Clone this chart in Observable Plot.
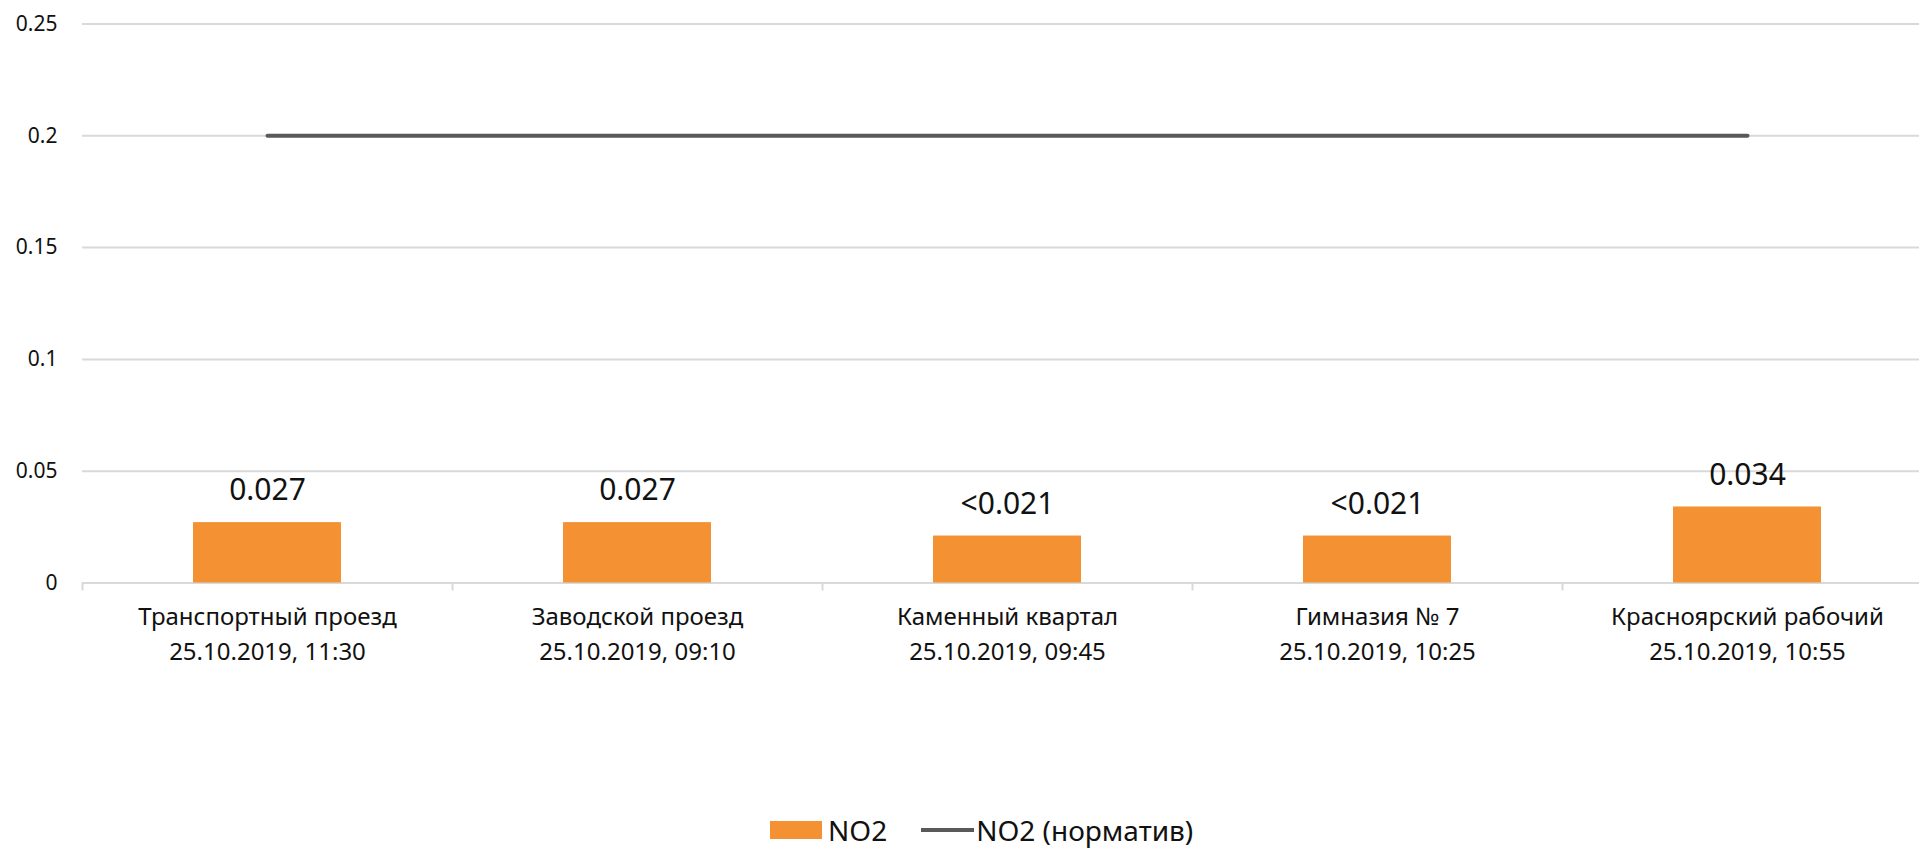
<!DOCTYPE html>
<html>
<head>
<meta charset="utf-8">
<script src="https://cdn.jsdelivr.net/npm/d3@7"></script>
<script src="https://cdn.jsdelivr.net/npm/@observablehq/plot@0.6"></script>
<style>
  html, body { margin: 0; padding: 0; background: #fff; }
  body { width: 1919px; height: 848px; position: relative; overflow: hidden; font-family: "Noto Sans", sans-serif; }
  #chart svg { display: block; overflow: hidden; }
  #legend { position: absolute; left: 770px; top: 814px; height: 32px; line-height: 32px; display: flex; align-items: center; font-size: 28px; color: #111; }
  .sw-bar { width: 52px; height: 18px; background: #f39133; margin-right: 6px; }
  .sw-line { width: 53px; height: 4px; background: #595959; margin-left: 34px; margin-right: 2px; }
</style>
</head>
<body>
<div id="chart"></div>
<div id="legend">
  <div class="sw-bar"></div><span>NO2</span>
  <div class="sw-line"></div><span>NO2 (норматив)</span>
</div>
<script>
const categories = [
  "Транспортный проезд\n25.10.2019, 11:30",
  "Заводской проезд\n25.10.2019, 09:10",
  "Каменный квартал\n25.10.2019, 09:45",
  "Гимназия № 7\n25.10.2019, 10:25",
  "Красноярский рабочий\n25.10.2019, 10:55"
];
const no2Values = [0.027, 0.027, 0.021, 0.021, 0.034];
const no2Labels = ["0.027", "0.027", "<0.021", "<0.021", "0.034"];
const normValues = [0.2, 0.2, 0.2, 0.2, 0.2];
const yTicks = [0, 0.05, 0.1, 0.15, 0.2, 0.25];

const data = categories.map((c, i) => ({cat: c, value: no2Values[i], label: no2Labels[i], norm: normValues[i]}));

const H = 805;
const chart = Plot.plot({
  width: 1919,
  height: H,
  marginLeft: 82,
  marginRight: 0,
  marginTop: 23.5,
  marginBottom: H - 582.5,
  style: {fontFamily: "Noto Sans, sans-serif", color: "#111", background: "#fff"},
  x: {domain: categories, range: [82, 1933], paddingInner: 0.6, paddingOuter: 0.3, axis: null, label: null},
  y: {domain: [0, 0.25], axis: null, label: null},
  marks: [
    Plot.ruleY(yTicks, {stroke: "#d9d9d9", strokeWidth: 2}),
    Plot.ruleX(categories, {x: d => d, y1: 0, y2: 0, insetTop: 8, dx: -185, stroke: "#d9d9d9", strokeWidth: 2}),
    Plot.barY(data, {x: "cat", y: "value", fill: "#f39133"}),
    Plot.line(data, {x: "cat", y: "norm", stroke: "#595959", strokeWidth: 4, strokeLinecap: "round"}),
    Plot.text(data, {x: "cat", y: "value", text: "label", dy: -32, fontSize: 30, fill: "#111"}),
    Plot.axisY(yTicks, {tickSize: 0, tickPadding: 25, fontSize: 21, tickFormat: d => String(+d.toFixed(2)), fill: "#111", label: null}),
    Plot.axisX({tickSize: 0, tickPadding: 17, fontSize: 24, lineHeight: 1.46, fill: "#111", label: null})
  ]
});
document.getElementById("chart").appendChild(chart);
</script>
</body>
</html>
